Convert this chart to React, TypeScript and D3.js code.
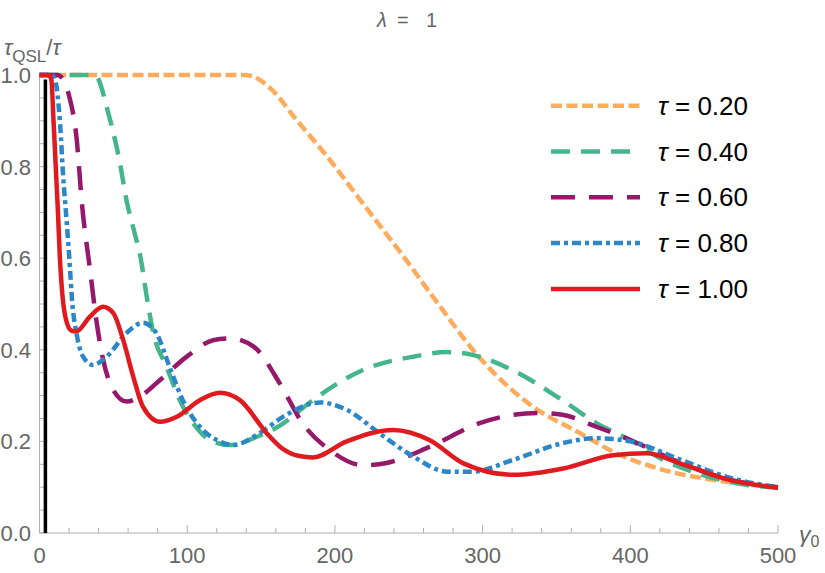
import React from "react";
import * as d3 from "d3";

type Pt = [number, number];

const seriesValues = ["0.20", "0.40", "0.60", "0.80", "1.00"];

const tau020: Pt[] = [
  [0, 1], [100, 1], [138, 1], [146, 0.995], [156, 0.972], [174, 0.902], [195, 0.821],
  [220, 0.715], [245, 0.61], [270, 0.5], [296, 0.39], [334, 0.276], [366, 0.218],
  [388, 0.178], [422, 0.138], [456, 0.116], [500, 0.099],
];
const tau040: Pt[] = [
  [0, 1], [30, 1], [37, 1], [40, 0.99], [45.5, 0.93], [54.5, 0.807], [59, 0.725],
  [64, 0.66], [68.5, 0.6], [72.6, 0.516], [77, 0.437], [86, 0.363], [95, 0.29],
  [104, 0.24], [115.5, 0.203], [129, 0.192], [145, 0.207], [163, 0.235], [185, 0.29],
  [219, 0.356], [253, 0.385], [276, 0.395], [293, 0.389], [320, 0.356], [354, 0.29],
  [377, 0.24], [400, 0.203], [422, 0.16], [445, 0.131], [479, 0.105], [500, 0.1],
];
const tau060: Pt[] = [
  [0, 1], [12, 1], [16, 0.99], [20, 0.955], [25, 0.865], [29, 0.71], [34, 0.58],
  [38.7, 0.46], [43, 0.38], [50, 0.312], [59, 0.287], [68, 0.298], [81.6, 0.334],
  [99.7, 0.385], [117.5, 0.421], [129, 0.425], [145, 0.407], [163, 0.325], [178, 0.24],
  [197, 0.18], [219, 0.148], [235, 0.153], [264, 0.188], [298, 0.24], [337, 0.262],
  [354, 0.258], [377, 0.232], [400, 0.203], [434, 0.153], [468, 0.116], [500, 0.1],
];
const tau080: Pt[] = [
  [0, 1], [8, 1], [10.5, 0.99], [14, 0.89], [16, 0.78], [18.4, 0.68], [20.6, 0.58],
  [22, 0.51], [25, 0.437], [29.5, 0.385], [36, 0.367], [45.5, 0.385], [59, 0.437],
  [70, 0.459], [79, 0.437], [88, 0.363], [97, 0.29], [108.6, 0.232], [120, 0.203],
  [131, 0.192], [149, 0.218], [165, 0.254], [190, 0.285], [208, 0.269], [230, 0.218],
  [253, 0.167], [276, 0.134], [293, 0.134], [320, 0.159], [354, 0.196], [377, 0.207],
  [400, 0.2], [434, 0.16], [468, 0.12], [500, 0.1],
];
const tau100: Pt[] = [
  [0, 1], [6, 1], [8, 0.99], [9.5, 0.9], [11, 0.8], [12.5, 0.7], [13.8, 0.6],
  [15.5, 0.52], [18, 0.465], [21.5, 0.442], [25, 0.44], [34, 0.472], [43, 0.494],
  [50, 0.48], [56.7, 0.421], [63.5, 0.341], [70, 0.276], [81.6, 0.243], [93, 0.254],
  [108.6, 0.29], [122, 0.306], [135.7, 0.29], [153.8, 0.218], [163, 0.188],
  [176, 0.168], [185, 0.165], [208, 0.2], [239.5, 0.225], [264, 0.203], [287, 0.152],
  [320.8, 0.127], [354.6, 0.141], [388.5, 0.17], [411, 0.174], [433.6, 0.152],
  [467, 0.116], [500, 0.099],
];

const seriesData: Pt[][] = [tau020, tau040, tau060, tau080, tau100];
const seriesColors = ["#fdab5c", "#45b68c", "#95186a", "#2b87c8", "#e01b1f"];
const seriesDash = ["11,4.5", "19,11", "24,14", "9,4,4,4", "none"];

const xMajorTicks = [0, 100, 200, 300, 400, 500];
const yMajorTicks = [0, 0.2, 0.4, 0.6, 0.8, 1.0];
const criticalGamma = 4;

export default function App() {
  const W = 825, H = 573;
  const x = d3.scaleLinear().domain([0, 500]).range([39.5, 778]);
  const y = d3.scaleLinear().domain([0, 1]).range([533, 75]);
  const line = d3
    .line<Pt>()
    .x((d) => x(d[0]))
    .y((d) => y(d[1]))
    .curve(d3.curveMonotoneX);

  const xMinor = d3.range(0, 501, 20);
  const yMinor = d3.range(0, 1.0001, 0.05);
  const axisColor = "#b0b0b0";
  const labelColor = "#666";
  const font = "'Liberation Sans', Arial, sans-serif";

  return (
    <svg
      width={W}
      height={H}
      style={{ position: "absolute", left: 0, top: 0, background: "#fff" }}
      fontFamily={font}
    >
      {/* title */}
      <g fontSize={20} fill={labelColor}>
        <text x={377} y={27} fontStyle="italic">λ</text>
        <text x={397} y={27}>=</text>
        <text x={426} y={27}>1</text>
      </g>

      {/* axes */}
      <line x1={x(0)} x2={x(500)} y1={y(0)} y2={y(0)} stroke={axisColor} strokeWidth={1} />
      <line x1={x(0)} x2={x(0)} y1={y(0)} y2={y(1)} stroke={axisColor} strokeWidth={1} />
      {xMinor.map((t) => {
        const major = t % 100 === 0;
        return (
          <line key={"xt" + t} x1={x(t)} x2={x(t)} y1={y(0)} y2={y(0) - (major ? 8 : 5)} stroke={axisColor} strokeWidth={1} />
        );
      })}
      {yMinor.map((t, i) => {
        const major = i % 4 === 0;
        return (
          <line key={"yt" + i} x1={x(0)} x2={x(0) + (major ? 8 : 5)} y1={y(t)} y2={y(t)} stroke={axisColor} strokeWidth={1} />
        );
      })}
      {xMajorTicks.map((t) => (
        <text key={"xl" + t} x={x(t)} y={563} fontSize={22} fill={labelColor} textAnchor="middle">
          {t}
        </text>
      ))}
      {yMajorTicks.map((t) => (
        <text key={"yl" + t} x={31} y={y(t) + 8} fontSize={22} fill={labelColor} textAnchor="end">
          {t.toFixed(1)}
        </text>
      ))}

      {/* axis labels */}
      <text x={4} y={55} fontSize={22} fill={labelColor}>
        <tspan fontStyle="italic">τ</tspan>
        <tspan fontSize={17} dy={7}>QSL</tspan>
        <tspan dy={-7}>/</tspan>
        <tspan fontStyle="italic">τ</tspan>
      </text>
      <text x={799} y={542} fontSize={23} fill={labelColor}>
        <tspan fontStyle="italic">γ</tspan>
        <tspan fontSize={16} dy={5}>0</tspan>
      </text>

      {/* critical line */}
      <line x1={x(criticalGamma)} x2={x(criticalGamma)} y1={y(0)} y2={y(0.99)} stroke="#000" strokeWidth={3.5} />

      {/* series */}
      {seriesData.map((d, i) => (
        <path
          key={"s" + i}
          d={line(d) || ""}
          fill="none"
          stroke={seriesColors[i]}
          strokeWidth={4.5}
          strokeDasharray={seriesDash[i]}
          strokeLinecap="butt"
          strokeLinejoin="round"
        />
      ))}

      {/* legend */}
      {seriesValues.map((v, i) => {
        const cy = 105.7 + i * 45.8;
        return (
          <g key={"lg" + i}>
            <line x1={551} x2={640} y1={cy} y2={cy} stroke={seriesColors[i]} strokeWidth={4.5} strokeDasharray={seriesDash[i]} />
            <text x={658} y={cy + 9} fontSize={26} fill="#000">
              <tspan fontStyle="italic">τ</tspan> = {v}
            </text>
          </g>
        );
      })}
    </svg>
  );
}
